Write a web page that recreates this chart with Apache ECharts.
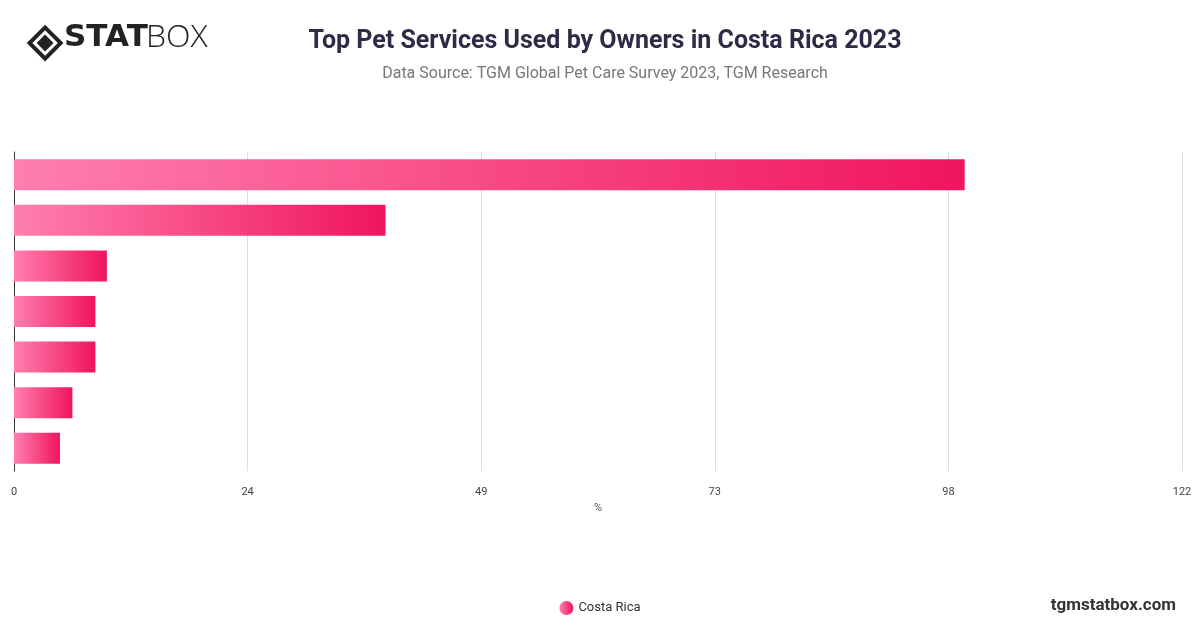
<!DOCTYPE html>
<html><head><meta charset="utf-8">
<script src="https://cdn.jsdelivr.net/npm/echarts@6/dist/echarts.min.js"></script>
<style>html,body{margin:0;padding:0;background:#fff}#c{width:1200px;height:628px}</style>
</head><body><div id="c"></div>
<script>
const categories = ['Service 1','Service 2','Service 3','Service 4','Service 5','Service 6','Service 7'];
const values = [99.3, 38.8, 9.7, 8.5, 8.5, 6.1, 4.8];
const seriesName = 'Costa Rica';
const chart = echarts.init(document.getElementById('c'));
const grad = new echarts.graphic.LinearGradient(0,0,1,0,[{offset:0,color:'#ff7fae'},{offset:1,color:'#f0145f'}]);
chart.setOption({
  animation:false,
  title:{text:'Top Pet Services Used by Owners in Costa Rica 2023',subtext:'Data Source: TGM Global Pet Care Survey 2023, TGM Research',left:600,textAlign:'center',top:24,
    textStyle:{fontFamily:'Roboto',fontSize:25,fontWeight:'bold',color:'#2d2b45'},
    subtextStyle:{fontFamily:'Roboto',fontSize:16,color:'#777'},itemGap:12},
  graphic:[
    {type:'group',left:26,top:24,children:[
      {type:'rect',shape:{x:4,y:4,width:22,height:22},rotation:Math.PI/4,originX:15,originY:15,style:{fill:'none',stroke:'#222',lineWidth:4}},
      {type:'rect',shape:{x:9,y:9,width:12,height:12},rotation:Math.PI/4,originX:15,originY:15,style:{fill:'#222'}}
    ]},
    {type:'text',left:64,top:22,style:{text:'STAT',font:'900 31px "DejaVu Sans"',fill:'#222'}},
    {type:'text',left:146,top:22,style:{text:'BOX',font:'300 32px "Open Sans"',fill:'#222'}},
    {type:'text',right:24,top:597,style:{text:'tgmstatbox.com',font:'bold 17px Roboto',fill:'#333'}}
  ],
  legend:{bottom:8,left:'center',icon:'circle',itemWidth:14,itemHeight:14,textStyle:{fontFamily:'Roboto',fontSize:13,color:'#333'},data:[{name:seriesName,itemStyle:{color:grad}}]},
  grid:{left:14,right:18,top:152,bottom:157},
  xAxis:{type:'value',min:0,max:122,interval:24.4,name:'%',nameLocation:'middle',nameGap:26,
    nameTextStyle:{fontFamily:'Roboto',fontSize:11,color:'#555'},
    axisLabel:{formatter:v=>Math.round(v),fontFamily:'Roboto',fontSize:11,color:'#444',margin:16},
    splitLine:{lineStyle:{color:'#ddd'}},axisLine:{show:false},axisTick:{show:false}},
  yAxis:{type:'category',inverse:true,data:categories,axisLabel:{show:false},axisTick:{show:false},
    axisLine:{show:true,lineStyle:{color:'#333'}}},
  series:[{name:seriesName,type:'bar',data:values,barWidth:'68%',itemStyle:{color:grad}}]
});
</script></body></html>
